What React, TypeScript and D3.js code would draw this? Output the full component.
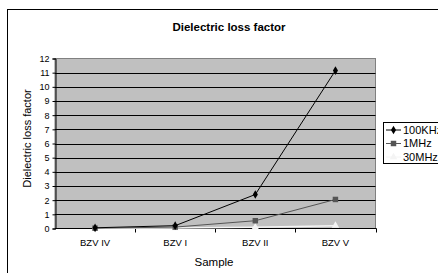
import React, { useRef, useEffect } from "react";
import * as d3 from "d3";

// data
const categories = ["BZV IV", "BZV I", "BZV II", "BZV V"];
const seriesNames = ["100KHz", "1MHz", "30MHz"];
const khz100 = [0.05, 0.2, 2.4, 11.15];
const mhz1 = [0.02, 0.1, 0.55, 2.05];
const mhz30 = [0.01, 0.03, 0.08, 0.2];
const yTicks = [0, 1, 2, 3, 4, 5, 6, 7, 8, 9, 10, 11, 12];

const W = 438;
const H = 273;
const font = "'Liberation Sans', Arial, sans-serif";

export default function App() {
  const svgRef = useRef<SVGSVGElement>(null);

  useEffect(() => {
    const svg = d3.select(svgRef.current);
    svg.selectAll("*").remove();

    const left = 55, right = 375.5, top = 58.5, bottom = 228.5;

    const x = d3.scaleBand().domain(categories).range([left, right]);
    const y = d3.scaleLinear().domain([0, 12]).range([bottom, top]);

    // chart frame
    svg.append("rect")
      .attr("x", 7.5).attr("y", 9.5)
      .attr("width", 450).attr("height", 280)
      .attr("fill", "#fff").attr("stroke", "#000");

    // title
    svg.append("text")
      .attr("x", 229).attr("y", 31)
      .attr("text-anchor", "middle")
      .style("font", `bold 11.5px ${font}`)
      .text("Dielectric loss factor");

    // plot area
    svg.append("rect")
      .attr("x", left).attr("y", top)
      .attr("width", right - left).attr("height", bottom - top)
      .attr("fill", "#c0c0c0").attr("stroke", "#808080");

    // gridlines
    svg.append("g")
      .selectAll("line")
      .data(yTicks.filter((t) => t > 0 && t < 12))
      .join("line")
      .attr("x1", left).attr("x2", right)
      .attr("y1", (d) => Math.round(y(d)) + 0.5)
      .attr("y2", (d) => Math.round(y(d)) + 0.5)
      .attr("stroke", "#000");

    // y axis
    const yAxis = d3.axisLeft(y).tickValues(yTicks).tickSize(3).tickPadding(3);
    const gy = svg.append("g")
      .attr("transform", `translate(${left + 0.5},0)`)
      .call(yAxis);
    gy.select(".domain").attr("stroke", "#000");
    gy.selectAll("text").style("font", `9px ${font}`).attr("fill", "#000");

    // x axis
    const xAxis = d3.axisBottom(x).tickSize(0).tickPadding(11);
    const gx = svg.append("g")
      .attr("transform", `translate(0,${bottom})`)
      .call(xAxis);
    gx.select(".domain").remove();
    gx.selectAll("text").style("font", `9.5px ${font}`).attr("fill", "#000");
    svg.append("line")
      .attr("x1", left).attr("x2", right + 1)
      .attr("y1", bottom).attr("y2", bottom)
      .attr("stroke", "#000");
    svg.append("g")
      .selectAll("line")
      .data(categories)
      .join("line")
      .attr("x1", (d) => Math.round((x(d) as number) + x.bandwidth()) + 0.5)
      .attr("x2", (d) => Math.round((x(d) as number) + x.bandwidth()) + 0.5)
      .attr("y1", bottom).attr("y2", bottom + 4)
      .attr("stroke", "#000");

    // axis titles
    svg.append("text")
      .attr("transform", `translate(31,${(top + bottom) / 2 - 5}) rotate(-90)`)
      .attr("text-anchor", "middle")
      .style("font", `11px ${font}`)
      .text("Dielectric loss factor");
    svg.append("text")
      .attr("x", 214).attr("y", 266)
      .attr("text-anchor", "middle")
      .style("font", `11.5px ${font}`)
      .text("Sample");

    const cx = (c: string) => (x(c) as number) + x.bandwidth() / 2;
    const colors = ["#000000", "#555555", "#f4f4f4"];
    const shapes = [d3.symbolDiamond, d3.symbolSquare, d3.symbolTriangle];
    const sizes = [22, 30, 24];
    const allSeries = [khz100, mhz1, mhz30];

    const lineGen = d3.line<number>()
      .x((d, i) => cx(categories[i]))
      .y((d) => y(d));

    [2, 1, 0].forEach((si) => {
      const data = allSeries[si];
      svg.append("path")
        .attr("d", lineGen(data))
        .attr("fill", "none")
        .attr("stroke", colors[si])
        .attr("stroke-width", si === 2 ? 1.5 : 1);
      svg.append("g")
        .selectAll("path")
        .data(data)
        .join("path")
        .attr("transform", (d, i) => `translate(${cx(categories[i])},${y(d)})`)
        .attr("d", d3.symbol().type(shapes[si]).size(sizes[si])())
        .attr("fill", colors[si]);
    });

    // legend
    const lg = svg.append("g");
    lg.append("rect")
      .attr("x", 383.5).attr("y", 122.5)
      .attr("width", 70).attr("height", 41)
      .attr("fill", "#fff").attr("stroke", "#000");
    seriesNames.forEach((name, i) => {
      const ly = 130 + i * 13.5;
      lg.append("line")
        .attr("x1", 386).attr("x2", 401)
        .attr("y1", ly).attr("y2", ly)
        .attr("stroke", colors[i]);
      lg.append("path")
        .attr("transform", `translate(393.5,${ly})`)
        .attr("d", d3.symbol().type(shapes[i]).size(sizes[i])())
        .attr("fill", colors[i]);
      lg.append("text")
        .attr("x", 403).attr("y", ly + 3.5)
        .style("font", `11px ${font}`)
        .text(name);
    });
  }, []);

  return (
    <svg
      ref={svgRef}
      width={W}
      height={H}
      style={{ position: "absolute", left: 0, top: 0, background: "#fff" }}
    />
  );
}
